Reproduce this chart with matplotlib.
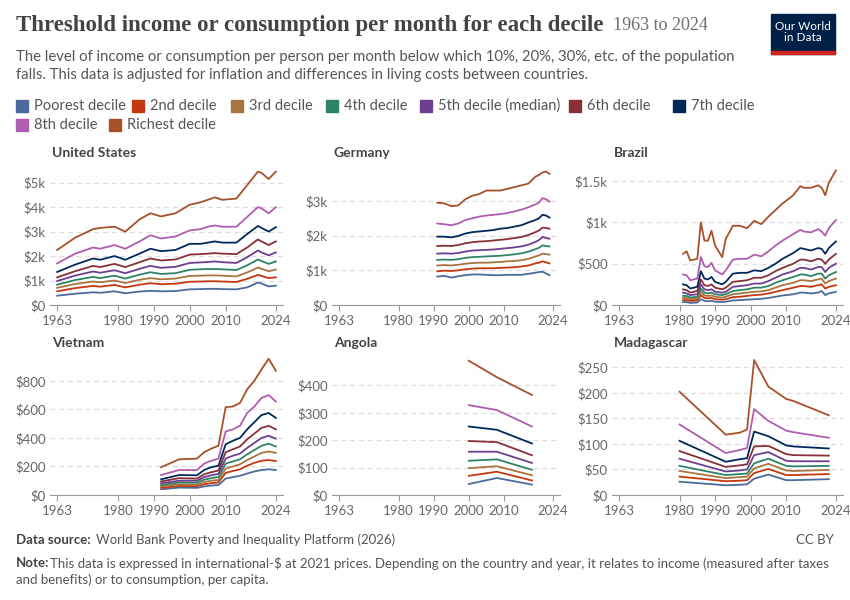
import matplotlib
matplotlib.use("Agg")
import matplotlib.pyplot as plt
from matplotlib.ticker import FuncFormatter

plt.rcParams['font.family'] = ['Lato', 'DejaVu Sans']

deciles = ["Poorest decile", "2nd decile", "3rd decile", "4th decile", "5th decile (median)",
           "6th decile", "7th decile", "8th decile", "Richest decile"]
colors = ["#4c6a9c", "#c4380f", "#a8743e", "#2c8465", "#6d3e91", "#883039", "#00295b", "#b05cb0", "#a8502a"]

us_years = [1963,1968,1973,1975,1979,1982,1986,1989,1992,1996,2000,2003,2005,2007,2009,2013,2016,2019,2020,2022,2024]
us = [
 [380,460,520,500,560,480,550,580,560,570,640,650,660,660,650,640,720,920,880,760,790],
 [560,690,780,750,820,720,830,890,850,870,950,960,970,970,960,940,1070,1230,1190,1100,1130],
 [700,860,960,930,1000,900,1030,1100,1050,1080,1190,1200,1210,1210,1200,1170,1330,1530,1480,1380,1450],
 [830,1020,1150,1100,1200,1080,1240,1340,1270,1300,1440,1460,1470,1470,1460,1430,1620,1860,1800,1680,1780],
 [980,1200,1370,1320,1420,1300,1480,1600,1520,1560,1720,1740,1760,1780,1750,1720,1950,2230,2150,2030,2150],
 [1130,1380,1600,1550,1680,1550,1750,1900,1820,1860,2060,2080,2100,2120,2100,2080,2350,2680,2600,2450,2600],
 [1350,1650,1900,1850,2000,1850,2100,2300,2200,2250,2500,2500,2550,2600,2550,2550,2900,3230,3150,3000,3180],
 [1700,2100,2350,2300,2450,2300,2600,2850,2720,2800,3050,3100,3200,3250,3200,3200,3600,4000,3950,3750,4000],
 [2250,2750,3100,3150,3200,3000,3500,3750,3620,3750,4100,4200,4300,4400,4300,4350,4900,5450,5400,5150,5450],
]

de_years = [1991,1993,1995,1997,1999,2001,2003,2005,2007,2009,2011,2013,2015,2017,2019,2020,2021,2022,2023]
de = [
 [820,840,790,830,860,880,880,870,860,860,870,870,870,900,930,950,960,910,860],
 [970,990,980,1000,1030,1050,1060,1060,1060,1070,1080,1090,1110,1140,1200,1220,1260,1230,1200],
 [1140,1150,1140,1160,1190,1210,1220,1220,1230,1240,1260,1270,1290,1330,1400,1430,1480,1470,1450],
 [1300,1310,1300,1320,1360,1380,1390,1400,1410,1420,1440,1460,1490,1540,1610,1650,1720,1700,1690],
 [1480,1490,1480,1500,1540,1570,1580,1590,1600,1620,1640,1660,1690,1740,1820,1870,1960,1930,1910],
 [1700,1710,1700,1730,1780,1810,1830,1840,1860,1880,1900,1930,1960,2020,2100,2150,2230,2220,2200],
 [1970,1970,1950,1990,2060,2100,2120,2140,2160,2200,2220,2260,2300,2380,2450,2500,2600,2580,2520],
 [2350,2330,2300,2350,2450,2500,2550,2580,2600,2620,2650,2700,2750,2820,2900,2950,3080,3050,2980],
 [2950,2930,2850,2870,3050,3150,3200,3300,3300,3300,3350,3400,3450,3500,3700,3750,3820,3850,3780],
]

br_years = [1981,1982,1983,1985,1986,1987,1988,1989,1990,1992,1993,1995,1997,1999,2001,2003,2005,2007,2009,2012,2014,2015,2017,2019,2020,2021,2022,2024]
br = [
 [35,35,25,30,70,50,45,50,40,35,40,55,60,65,70,75,85,100,115,130,150,150,140,150,170,120,140,160],
 [60,60,50,55,120,85,80,85,70,65,70,95,100,110,120,125,140,160,180,210,230,230,220,240,250,200,220,240],
 [85,85,70,75,160,115,110,115,100,90,100,130,140,150,160,165,180,210,240,270,300,300,290,310,320,260,290,320],
 [110,110,90,100,200,150,140,150,130,120,130,170,180,190,210,210,230,270,300,340,370,370,350,380,380,320,360,400],
 [150,140,120,130,250,190,180,190,160,150,160,220,230,240,260,260,290,330,370,410,450,450,430,460,460,400,450,500],
 [190,180,150,170,310,240,230,250,210,190,210,280,290,300,330,330,360,410,450,500,550,550,530,560,550,500,550,620],
 [250,240,200,220,410,320,310,340,280,250,280,380,390,390,420,410,450,500,560,630,690,680,660,690,680,620,690,770],
 [370,360,300,320,580,470,460,510,420,370,420,550,560,560,610,590,650,720,780,860,910,890,880,920,890,840,930,1030],
 [620,650,540,560,1000,780,780,900,720,580,800,960,960,930,1020,980,1070,1150,1230,1330,1440,1420,1420,1450,1420,1330,1480,1630],
]

vn_years = [1992,1997,2002,2004,2006,2008,2010,2012,2014,2016,2018,2020,2022,2024]
vn = [
 [40,52,50,60,66,70,115,125,135,150,165,175,180,175],
 [50,63,62,75,83,88,155,168,180,205,225,240,245,238],
 [60,75,73,90,100,105,185,200,215,245,270,295,305,295],
 [70,88,86,107,118,126,220,235,250,285,315,345,360,340],
 [82,100,100,125,138,148,255,275,290,330,365,400,415,395],
 [95,118,115,145,160,172,300,320,340,390,430,470,485,460],
 [110,140,138,175,195,205,355,380,400,460,510,560,575,540],
 [140,175,175,220,240,255,445,460,485,575,620,680,700,655],
 [195,250,255,300,325,345,615,620,645,740,800,880,955,870],
]

ao_years = [2000,2008,2018]
ao = [
 [40,62,38],[70,85,53],[98,105,72],[125,130,92],[158,158,117],
 [197,193,145],[250,238,188],[328,310,250],[490,430,365],
]

mg_years = [1980,1993,1997,1999,2001,2005,2010,2012,2022]
mg = [
 [26,19,20,21,32,40,29,29,31],
 [36,27,28,29,43,51,39,39,41],
 [47,33,35,36,52,61,48,47,49],
 [57,39,41,42,62,71,57,56,57],
 [71,46,48,50,78,84,67,66,66],
 [86,55,58,60,95,96,80,78,77],
 [106,65,70,72,124,115,97,95,91],
 [138,82,88,92,168,145,126,123,112],
 [202,118,122,128,264,212,188,184,156],
]

panels = [
 ("United States", us_years, us, 5600, [0,1000,2000,3000,4000,5000]),
 ("Germany", de_years, de, 3950, [0,1000,2000,3000]),
 ("Brazil", br_years, br, 1660, [0,500,1000,1500]),
 ("Vietnam", vn_years, vn, 960, [0,200,400,600,800]),
 ("Angola", ao_years, ao, 500, [0,100,200,300,400]),
 ("Madagascar", mg_years, mg, 268, [0,50,100,150,200,250]),
]
xticks = [1963,1980,1990,2000,2010,2024]

def fmt(v, _):
    if v == 0:
        return "$0"
    if v >= 1000:
        return f"${v/1000:g}k"
    return f"${v:g}"

fig = plt.figure(figsize=(8.5, 6), dpi=100)
W, H = 850, 600
lefts = [50, 332, 612]
widths = [233, 228, 231]
rows = [(168, 305), (358, 495)]
grey = "#666666"

for i, (name, yrs, data, ymax, yt) in enumerate(panels):
    r, c = divmod(i, 3)
    top, bot = rows[r]
    ax = fig.add_axes([lefts[c]/W, 1-bot/H, widths[c]/W, (bot-top)/H])
    for d in range(9):
        ax.plot(yrs, data[d], color=colors[d], lw=1.3)
    ax.set_xlim(1961, 2026)
    ax.set_ylim(0, ymax)
    ax.set_yticks(yt)
    ax.yaxis.set_major_formatter(FuncFormatter(fmt))
    ax.set_xticks(xticks)
    for s in ["top", "right", "left"]:
        ax.spines[s].set_visible(False)
    ax.spines["bottom"].set_color("#999999")
    ax.tick_params(axis="y", length=0, labelsize=9.5, colors=grey, pad=3)
    ax.tick_params(axis="x", length=4, labelsize=9.5, colors=grey, color="#999999")
    ax.grid(axis="y", ls=(0, (4, 3)), color="#dddddd", lw=0.9)
    ax.set_axisbelow(True)
    fig.text((lefts[c]+2)/W, 1-(top-15)/H, name, fontsize=10, fontweight="bold", color="#444444", va="center")

fig.text(16/W, 1-26/H, "Threshold income or consumption per month for each decile", fontsize=16.5,
         fontweight="bold", family=["Liberation Serif", "DejaVu Serif"], color="#444444", va="center")
fig.text(613/W, 1-26/H, "1963 to 2024", fontsize=13, color="#6e6e6e", va="center",
         family=["Liberation Serif", "DejaVu Serif"])
fig.text(16/W, 1-66/H, "The level of income or consumption per person per month below which 10%, 20%, 30%, etc. of the population\nfalls. This data is adjusted for inflation and differences in living costs between countries.",
         fontsize=10.7, color="#555555", va="center", linespacing=1.35)

# logo
lx, ly, lw_, lh = 771, 14, 64, 40
fig.patches.append(plt.Rectangle((lx/W, 1-(ly+lh)/H), lw_/W, lh/H, transform=fig.transFigure, color="#002147"))
fig.patches.append(plt.Rectangle((lx/W, 1-(ly+lh)/H), lw_/W, 3/H, transform=fig.transFigure, color="#ce261e"))
fig.text((lx+lw_/2)/W, 1-(ly+18)/H, "Our World\nin Data", color="white", fontsize=8.5, ha="center", va="center", linespacing=1.1)

# legend
items = [(16, 106), (132, 106), (231, 106), (326, 106), (420, 106), (569, 106), (673, 106), (16, 125), (109, 125)]
for (x, y), lab, col in zip(items, deciles, colors):
    fig.patches.append(plt.Rectangle((x/W, 1-(y+6)/H), 12/W, 12/H, transform=fig.transFigure, color=col))
    fig.text((x+18)/W, 1-y/H, lab, fontsize=10.5, color="#555555", va="center")

fig.text(16/W, 1-540/H, "Data source:", fontsize=9.5, color="#444444", fontweight="bold", va="center")
fig.text(96/W, 1-540/H, "World Bank Poverty and Inequality Platform (2026)", fontsize=9.5, color="#555555", va="center")
fig.text(834/W, 1-540/H, "CC BY", fontsize=9.5, color="#555555", va="center", ha="right")
fig.text(16/W, 1-563/H, "Note:", fontsize=9.5, color="#444444", fontweight="bold", va="center")
fig.text(50/W, 1-563/H, "This data is expressed in international-$ at 2021 prices. Depending on the country and year, it relates to income (measured after taxes",
         fontsize=9.5, color="#555555", va="center")
fig.text(16/W, 1-580/H, "and benefits) or to consumption, per capita.", fontsize=9.5, color="#555555", va="center")

fig.savefig("out.png", dpi=100, facecolor="white")
